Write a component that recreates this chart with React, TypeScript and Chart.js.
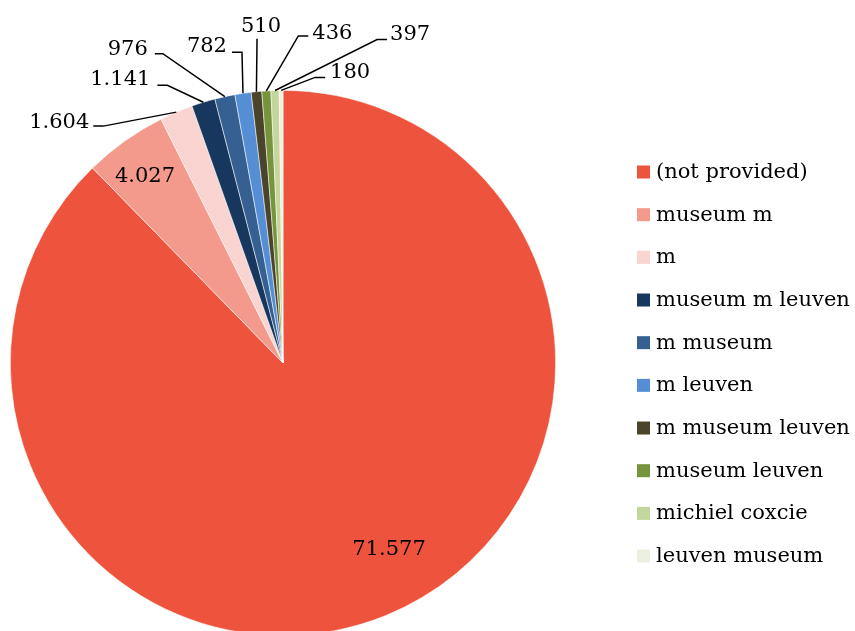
import React, { useEffect, useRef } from "react";
import { Chart, registerables } from "chart.js";

Chart.register(...registerables);

const categories = [
  "(not provided)",
  "museum m",
  "m",
  "museum m leuven",
  "m museum",
  "m leuven",
  "m museum leuven",
  "museum leuven",
  "michiel coxcie",
  "leuven museum",
];
const sessions = [71577, 4027, 1604, 1141, 976, 782, 510, 436, 397, 180];
const sliceColors = [
  "#EE533D",
  "#F39A8C",
  "#F9D4D0",
  "#17375E",
  "#366092",
  "#558ED5",
  "#4A452A",
  "#77933C",
  "#C3D69B",
  "#EBF1DE",
];

const FONT = "21px 'DejaVu Serif', serif";

const fmt = (v: number) => {
  const s = String(v);
  return s.replace(/\B(?=(\d{3})+(?!\d))/g, ".");
};

// label layout: inner labels as offset from pie center; outer labels as callouts from arc edge
type Callout = { ex: number; ey: number; hx: number; tx: number; ty: number; align: CanvasTextAlign };
const innerLayout: Record<number, [number, number]> = {
  0: [106, 184],
  1: [-138, -189],
};
const calloutLayout: Record<number, Callout> = {
  2: { ex: -73, ey: 14, hx: -10, tx: -4, ty: -6, align: "right" },
  3: { ex: -36, ey: -17, hx: -10, tx: -7, ty: -8, align: "right" },
  4: { ex: -62, ey: -43, hx: -8, tx: -7, ty: -6, align: "right" },
  5: { ex: -1, ey: -41, hx: -10, tx: -5, ty: -8, align: "right" },
  6: { ex: 0.6, ey: -53, hx: 0, tx: 4, ty: -14, align: "center" },
  7: { ex: 32, ey: -55, hx: 10, tx: 4, ty: -4, align: "left" },
  8: { ex: 102, ey: -51, hx: 10, tx: 3, ty: -7, align: "left" },
  9: { ex: 34, ey: -13, hx: 10, tx: 5, ty: -7, align: "left" },
};

const labelPlugin = {
  id: "pieLabels",
  afterDraw(chart: any) {
    const ctx = chart.ctx as CanvasRenderingContext2D;
    const meta = chart.getDatasetMeta(0);
    const data = chart.data.datasets[0].data as number[];
    ctx.save();
    ctx.font = FONT;
    ctx.fillStyle = "#000";
    ctx.strokeStyle = "#000";
    ctx.lineWidth = 1.5;
    meta.data.forEach((arc: any, i: number) => {
      const p = arc.getProps(["x", "y", "startAngle", "endAngle", "outerRadius"], true);
      const text = fmt(data[i]);
      if (innerLayout[i]) {
        const [dx, dy] = innerLayout[i];
        ctx.textAlign = "center";
        ctx.textBaseline = "alphabetic";
        ctx.fillText(text, p.x + dx, p.y + dy + 7.5);
        return;
      }
      const c = calloutLayout[i];
      if (!c) return;
      const mid = (p.startAngle + p.endAngle) / 2;
      const ax = p.x + Math.cos(mid) * p.outerRadius;
      const ay = p.y + Math.sin(mid) * p.outerRadius;
      const ex = ax + c.ex;
      const ey = ay + c.ey;
      const hx = ex + c.hx;
      ctx.beginPath();
      ctx.moveTo(ax, ay);
      ctx.lineTo(ex, ey);
      if (c.hx !== 0) ctx.lineTo(hx, ey);
      ctx.stroke();
      ctx.textAlign = c.align;
      ctx.textBaseline = "alphabetic";
      ctx.fillText(text, hx + c.tx, ey + c.ty + 7.5);
    });
    ctx.restore();
  },
};

const legendPlugin = {
  id: "sideLegend",
  afterDraw(chart: any) {
    const ctx = chart.ctx as CanvasRenderingContext2D;
    const labels = chart.data.labels as string[];
    const colors = chart.data.datasets[0].backgroundColor as string[];
    const x0 = 637;
    const y0 = 172;
    const step = 42.67;
    const box = 13;
    ctx.save();
    ctx.font = FONT;
    ctx.textAlign = "left";
    ctx.textBaseline = "alphabetic";
    labels.forEach((lab, i) => {
      const cy = y0 + i * step;
      ctx.fillStyle = colors[i];
      ctx.fillRect(x0, cy - box / 2, box, box);
      ctx.fillStyle = "#000";
      ctx.fillText(lab, x0 + 19, cy + 6);
    });
    ctx.restore();
  },
};

export default function App() {
  const ref = useRef<HTMLCanvasElement | null>(null);
  useEffect(() => {
    if (!ref.current) return;
    const chart = new Chart(ref.current, {
      type: "pie",
      data: {
        labels: categories,
        datasets: [
          {
            data: sessions,
            backgroundColor: sliceColors,
            borderColor: "rgba(255,255,255,0.7)",
            borderWidth: 0.75,
          },
        ],
      },
      options: {
        responsive: false,
        animation: false,
        devicePixelRatio: 1,
        layout: { padding: { left: 10, right: 299, top: 90, bottom: 24 } },
        plugins: {
          legend: { display: false },
          tooltip: { enabled: false },
        },
      },
      plugins: [labelPlugin, legendPlugin],
    });
    return () => chart.destroy();
  }, []);
  return (
    <div style={{ position: "fixed", left: 0, top: 0, width: 855, height: 660, background: "#fff" }}>
      <canvas ref={ref} width={855} height={660} />
    </div>
  );
}
